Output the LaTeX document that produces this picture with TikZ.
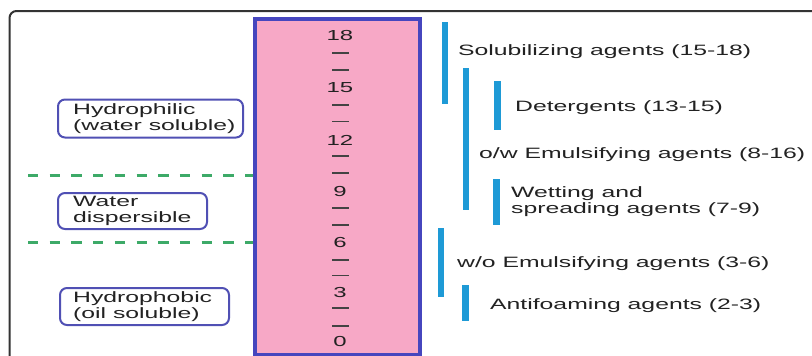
\documentclass[tikz,border=0pt]{standalone}
\usepackage{fontspec}
\setmainfont[FakeStretch=1.65]{Liberation Sans}
\definecolor{pinkfill}{HTML}{F7A8C6}
\definecolor{scaleblue}{HTML}{4646BE}
\definecolor{boxblue}{HTML}{5050B4}
\definecolor{cyanbar}{HTML}{1E9AD6}
\definecolor{dashgreen}{HTML}{3DAA68}
\definecolor{txt}{HTML}{222222}
\definecolor{framegray}{HTML}{333333}
\tikzset{
  lbl/.style={inner sep=0pt, anchor=base west, text=txt, font=\fontsize{15}{16}\selectfont},
  lbltwo/.style={inner sep=0pt, anchor=west, text=txt, align=left, font=\fontsize{15}{16}\selectfont},
  num/.style={inner sep=0pt, anchor=center, text=txt, font=\fontsize{14.5}{16}\selectfont},
  tick/.style={draw=txt!85, line width=1.8pt},
  agentbar/.style={draw=cyanbar, line width=6.5pt, line cap=butt},
  sidebox/.style={draw=boxblue, line width=2pt, rounded corners=7pt, inner sep=0pt, outer sep=0pt},
  greendash/.style={draw=dashgreen, line width=3pt, dash pattern=on 10.3pt off 11.4pt},
  frameline/.style={draw=framegray, line width=2pt, rounded corners=7pt}
}
\begin{document}
\begin{tikzpicture}[x=1pt,y=-1pt]
\useasboundingbox (0,0) rectangle (812,356);
\clip (0,0) rectangle (812,356);
\fill[white] (0,0) rectangle (812,356);
% outer frame
\draw[frameline] (9.5,420) rectangle (880,11);
% green dashed separators
\coordinate (d1) at (28,175);
\coordinate (d2) at (28,242);
% HLB scale bar
\node[draw=scaleblue, fill=pinkfill, line width=4pt, minimum width=165pt, minimum height=336pt, inner sep=0pt] (hlb) at (337.5,187) {};
\draw[greendash] (d1) -- (hlb.west |- d1);
\draw[greendash] (d2) -- (hlb.west |- d2);
% numbers
\node[num] (n18) at (340,36) {18};
\node[num] (n15) at (340,87.5) {15};
\node[num] (n12) at (340,140) {12};
\node[num] (n9) at (340,192) {9};
\node[num] (n6) at (340,243) {6};
\node[num] (n3) at (340,293) {3};
\node[num] (n0) at (340,342) {0};
% ticks
\foreach \ty in {53,70,105,121.5,156,173,208,225,260,275.5,308,326}
  \draw[tick] (332,\ty) -- (349,\ty);
% side boxes
\node[sidebox, minimum width=185pt, minimum height=38pt] (bphil) at (150.5,118.5) {};
\node[lbltwo] (tphil) at ([xshift=15pt]bphil.west) {Hydrophilic\\(water soluble)};
\node[sidebox, minimum width=149pt, minimum height=36pt] (bdisp) at (132.5,211) {};
\node[lbltwo] (tdisp) at ([xshift=15pt]bdisp.west) {Water\\dispersible};
\node[sidebox, minimum width=169pt, minimum height=37pt] (bphob) at (144.5,306.5) {};
\node[lbltwo] (tphob) at ([xshift=13pt]bphob.west) {Hydrophobic\\(oil soluble)};
% agent bars
\draw[agentbar] (445,22) -- (445,104);
\draw[agentbar] (466,68) -- (466,210);
\draw[agentbar] (497.5,81) -- (497.5,130);
\draw[agentbar] (496.5,179) -- (496.5,225);
\draw[agentbar] (441,228) -- (441,297);
\draw[agentbar] (465.5,285) -- (465.5,321);
% agent labels
\node[lbl] (sol) at (458,55) {Solubilizing agents (15-18)};
\node[lbl] (det) at (515,111) {Detergents (13-15)};
\node[lbl] (ow) at (479,158) {o/w Emulsifying agents (8-16)};
\node[lbltwo] (wet) at (511,201.5) {Wetting and\\spreading agents (7-9)};
\node[lbl] (wo) at (457,267) {w/o Emulsifying agents (3-6)};
\node[lbl] (anti) at (490,309) {Antifoaming agents (2-3)};
\end{tikzpicture}
\end{document}
